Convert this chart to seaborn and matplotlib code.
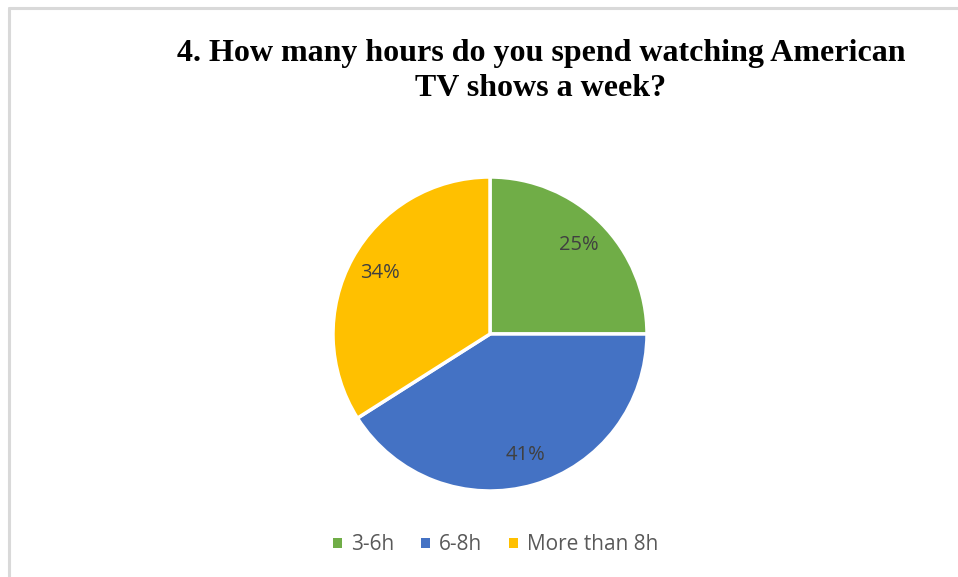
import matplotlib
matplotlib.use("Agg")
import matplotlib.pyplot as plt
from matplotlib.lines import Line2D
from matplotlib.patches import Patch
import seaborn as sns

# Survey answers
categories = ["3-6h", "6-8h", "More than 8h"]
shares = [25, 41, 34]
colors = ["#70AD47", "#4472C4", "#FFC000"]
title = "4. How many hours do you spend watching American\nTV shows a week?"

sns.set_theme(style="white")
plt.rcParams["font.family"] = ["Open Sans", "DejaVu Sans"]

W, H = 958, 577
fig = plt.figure(figsize=(W / 100, H / 100), dpi=100)
fig.patch.set_facecolor("white")

# chart frame: light grey edge along top and left
fig.add_artist(Line2D([9 / W, 9 / W], [0, 1 - 8 / H], color="#D9D9D9", lw=2.2,
                      transform=fig.transFigure))
fig.add_artist(Line2D([9 / W, 1], [1 - 8 / H, 1 - 8 / H], color="#D9D9D9", lw=2.2,
                      transform=fig.transFigure))

cx, cy, r = 490, 334, 157
ax = fig.add_axes([(cx - r) / W, (H - cy - r) / H, 2 * r / W, 2 * r / H])
wedges, texts, autotexts = ax.pie(
    shares, colors=colors, startangle=90, counterclock=False,
    autopct=lambda p: f"{p:.0f}%", pctdistance=0.8,
    wedgeprops=dict(edgecolor="white", linewidth=2.5, clip_on=False),
    textprops=dict(color="#404040", fontsize=14.5),
)
ax.set_xlim(-1, 1)
ax.set_ylim(-1, 1)
ax.set_aspect("equal")
ax.axis("off")

fig.text(541 / W, 1 - 71 / H, title, ha="center", va="center",
         family="Liberation Serif", fontweight="bold", fontsize=23,
         linespacing=1.3, color="black")

handles = [Patch(facecolor=c, edgecolor="none") for c in colors]
fig.legend(handles, categories, loc="center", bbox_to_anchor=(496 / W, 1 - 545 / H),
           ncol=3, frameon=False, fontsize=15, labelcolor="#595959",
           handlelength=0.4, handleheight=0.4, handletextpad=0.45, columnspacing=1.3)

fig.savefig("out.png", dpi=100, facecolor="white")
